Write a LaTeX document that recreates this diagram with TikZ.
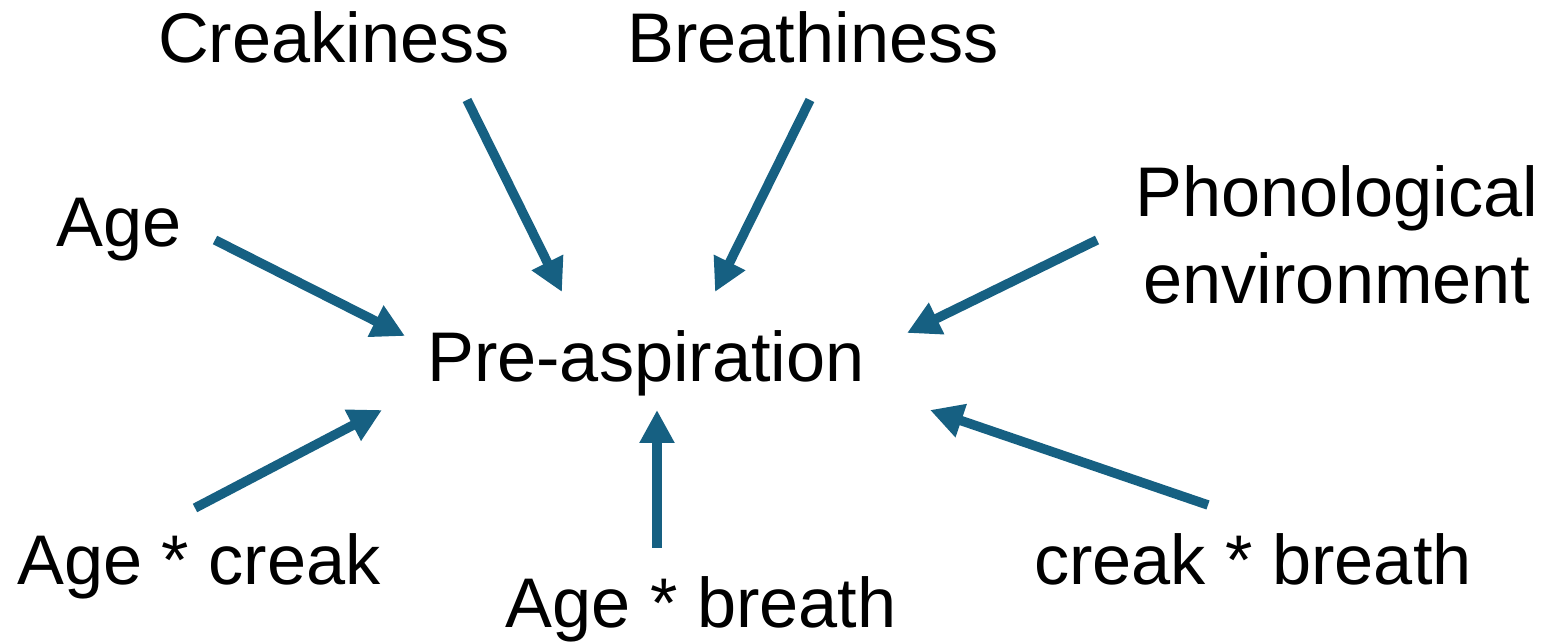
\documentclass[tikz,border=0pt]{standalone}
\usepackage{fontspec}
\setmainfont{Liberation Sans}
\usetikzlibrary{arrows.meta}

\definecolor{linkblue}{RGB}{22,96,130}

\begin{document}
\begin{tikzpicture}[
  factor/.style={
    anchor=base,
    align=center,
    inner sep=0pt,
    font=\fontsize{20}{25}\selectfont
  },
  outcome/.style={factor},
  link/.style={
    draw=linkblue,
    line width=0.95mm,
    -{Triangle[length=3.3mm,width=3.3mm]}
  }
]
  \useasboundingbox (0,0) rectangle (15.55,6.44);

  % predictors round the outcome
  \node[outcome] (preasp) at (6.46,2.62) {Pre-aspiration};
  \node[factor] (creakiness) at (3.34,5.81) {Creakiness};
  \node[factor] (breathiness) at (8.13,5.81) {Breathiness};
  \node[factor] (age) at (1.19,3.97) {Age};
  \node[factor] (phonenv) at (13.37,3.40) {Phonological\\environment};
  \node[factor] (age-creak) at (1.99,0.59) {Age * creak};
  \node[factor] (age-breath) at (7.01,0.16) {Age * breath};
  \node[factor] (creak-breath) at (12.53,0.59) {creak * breath};

  % arrow ends
  \coordinate (creakiness-tail) at (4.67,5.44);
  \coordinate (creakiness-tip) at (5.62,3.52);
  \coordinate (breathiness-tail) at (8.10,5.44);
  \coordinate (breathiness-tip) at (7.15,3.52);
  \coordinate (age-tail) at (2.15,4.04);
  \coordinate (age-tip) at (4.05,3.08);
  \coordinate (phonenv-tail) at (10.97,4.04);
  \coordinate (phonenv-tip) at (9.07,3.11);
  \coordinate (age-creak-tail) at (1.95,1.36);
  \coordinate (age-creak-tip) at (3.82,2.34);
  \coordinate (age-breath-tail) at (6.57,0.96);
  \coordinate (age-breath-tip) at (6.57,2.34);
  \coordinate (creak-breath-tail) at (12.08,1.39);
  \coordinate (creak-breath-tip) at (9.30,2.34);

  \foreach \f in {creakiness,breathiness,age,phonenv,age-creak,age-breath,creak-breath}
    \draw[link] (\f-tail) -- (\f-tip);
\end{tikzpicture}
\end{document}
